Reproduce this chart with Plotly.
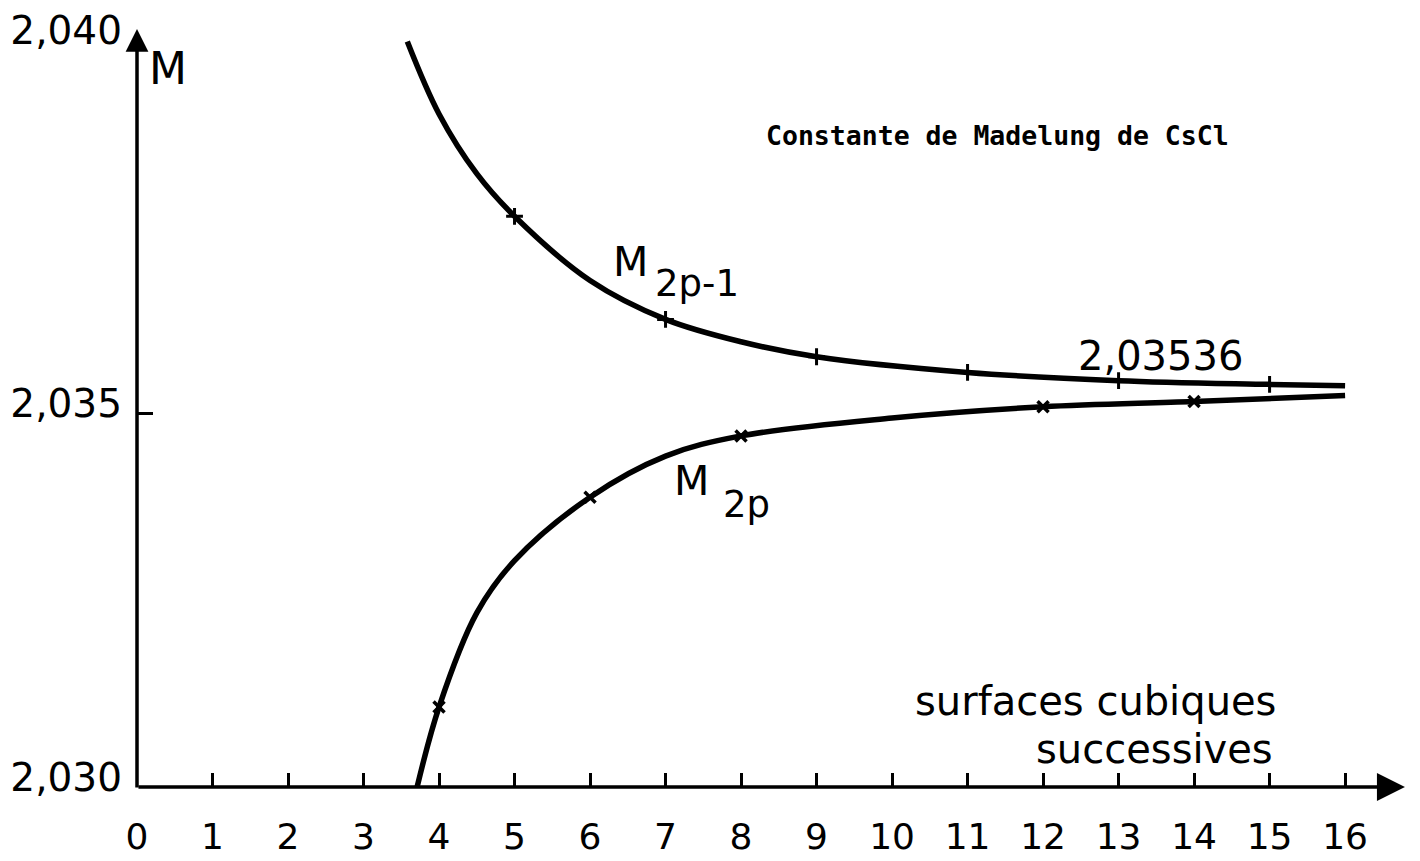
import plotly.graph_objects as go

# ---- data ----
x_ticks = list(range(0, 17))
x_tick_labels = [str(v) for v in x_ticks]
y_ticks = [2.030, 2.035, 2.040]
y_tick_labels = ["2,030", "2,035", "2,040"]

# M(2p-1) curve (upper branch)
upper_curve_x = [3.58, 4.0, 4.5, 5.0, 6.0, 7.0, 8.0, 9.0, 11.0, 13.0, 15.0, 16.0]
upper_curve_y = [2.03998, 2.03901, 2.03821, 2.03764, 2.03678, 2.03626, 2.03596,
                 2.03576, 2.03555, 2.03544, 2.03539, 2.03537]
upper_mark_x = [5, 7, 9, 11, 13, 15]
upper_mark_y = [2.03764, 2.03626, 2.03576, 2.03555, 2.03544, 2.03539]

# M(2p) curve (lower branch)
lower_curve_x = [3.71, 4.0, 4.5, 5.0, 6.0, 7.0, 8.0, 10.0, 12.0, 14.0, 16.0]
lower_curve_y = [2.0300, 2.03107, 2.03233, 2.03303, 2.03388, 2.03443, 2.03470,
                 2.03494, 2.03509, 2.03516, 2.03524]
lower_mark_x = [4, 6, 8, 12, 14]
lower_mark_y = [2.03107, 2.03388, 2.03470, 2.03509, 2.03516]

limit_label = "2,03536"
title_text = "Constante de Madelung de CsCl"

FONT = "DejaVu Sans"

fig = go.Figure()
fig.add_trace(go.Scatter(x=upper_curve_x, y=upper_curve_y, mode="lines",
                         line=dict(color="black", width=5.5, shape="spline", smoothing=1.0),
                         hoverinfo="skip", showlegend=False))
fig.add_trace(go.Scatter(x=lower_curve_x, y=lower_curve_y, mode="lines",
                         line=dict(color="black", width=5.5, shape="spline", smoothing=1.0),
                         hoverinfo="skip", showlegend=False))
fig.add_trace(go.Scatter(x=upper_mark_x, y=upper_mark_y, mode="markers",
                         marker=dict(symbol="cross-thin", size=12, line=dict(color="black", width=3)),
                         showlegend=False))
fig.add_trace(go.Scatter(x=lower_mark_x, y=lower_mark_y, mode="markers",
                         marker=dict(symbol="x-thin", size=11, line=dict(color="black", width=3.5)),
                         showlegend=False))

annots = [
    # axes with arrows
    dict(x=0, xref="x", y=1.0147, yref="paper", ax=0, ay=760, axref="pixel", ayref="pixel",
         showarrow=True, arrowhead=2, arrowsize=1.3, arrowwidth=3.5, arrowcolor="black", text=""),
    dict(x=0.9984, xref="paper", y=0, yref="paper", ax=-1268, ay=0, axref="pixel", ayref="pixel",
         showarrow=True, arrowhead=2, arrowsize=1.6, arrowwidth=3.5, arrowcolor="black", text=""),
    # texts
    dict(x=0.41, y=2.03962, text="M", font=dict(family=FONT, size=44, color="black")),
    dict(x=6.53, y=2.03703, text="M", font=dict(family=FONT, size=41, color="black")),
    dict(x=7.42, y=2.03674, text="2p-1", font=dict(family=FONT, size=37, color="black")),
    dict(x=7.35, y=2.03410, text="M", font=dict(family=FONT, size=41, color="black")),
    dict(x=8.07, y=2.03378, text="2p", font=dict(family=FONT, size=37, color="black")),
    dict(x=13.55, y=2.03577, text=limit_label, font=dict(family=FONT, size=40, color="black")),
    dict(x=12.69, y=2.03115, text="surfaces cubiques", font=dict(family=FONT, size=40, color="black")),
    dict(x=13.48, y=2.03051, text="successives", font=dict(family=FONT, size=40, color="black")),
    dict(x=11.4, y=2.03872, text="<b>" + title_text + "</b>",
         font=dict(family="DejaVu Sans Mono", size=26.5, color="black")),
]
for a in annots:
    a.setdefault("xref", "x")
    a.setdefault("yref", "y")
    a.setdefault("showarrow", False)
    fig.add_annotation(**a)

fig.update_layout(
    width=1420, height=861,
    margin=dict(l=137, r=13, t=40, b=74, autoexpand=False),
    paper_bgcolor="white", plot_bgcolor="white",
    xaxis=dict(range=[0, 16.82], showgrid=False, zeroline=False, showline=False,
               automargin=False,
               ticks="inside", ticklen=14, tickwidth=2.5, tickcolor="black",
               tickvals=x_ticks, ticktext=x_tick_labels, ticklabelstandoff=25,
               tickfont=dict(family=FONT, size=36, color="black")),
    yaxis=dict(range=[2.030, 2.040], showgrid=False, zeroline=False, showline=False,
               automargin=False,
               ticks="inside", ticklen=16, tickwidth=2.5, tickcolor="black",
               tickvals=y_ticks, ticktext=y_tick_labels, ticklabelstandoff=14,
               ticklabelshift=-10,
               tickfont=dict(family=FONT, size=39, color="black")),
)

fig.write_html("out.html", config={"displayModeBar": False},
               post_script="document.body.style.margin='0';")
